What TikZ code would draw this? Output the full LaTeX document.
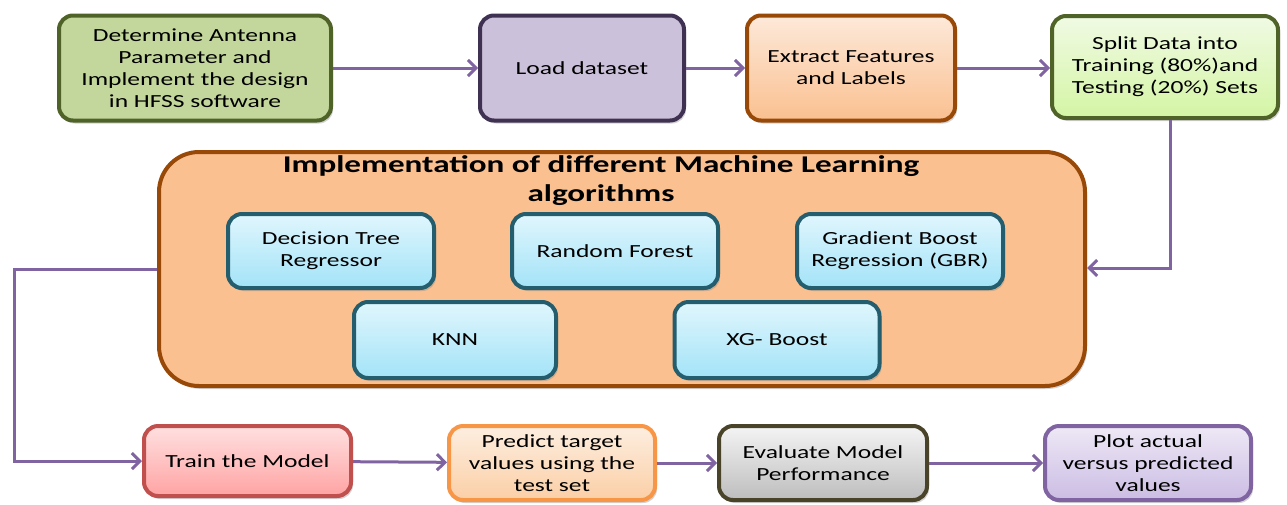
\documentclass[tikz,border=0pt]{standalone}
\usepackage{fontspec}
\setmainfont{Carlito}[FakeStretch=1.38]
\usetikzlibrary{arrows.meta,shadows}
\definecolor{conn}{HTML}{8064A2}
\definecolor{algob}{HTML}{245E6E}
\definecolor{algot}{HTML}{E0F6FD}
\definecolor{algobot}{HTML}{A3E3F8}
\definecolor{antb}{HTML}{4F6228}
\definecolor{antf}{HTML}{C3D69B}
\definecolor{loadb}{HTML}{3F3151}
\definecolor{loadf}{HTML}{CCC1DA}
\definecolor{extb}{HTML}{984807}
\definecolor{extt}{HTML}{FDE9D9}
\definecolor{extbot}{HTML}{FAC090}
\definecolor{splt}{HTML}{F0FAE4}
\definecolor{splbot}{HTML}{D4F5A4}
\definecolor{trb}{HTML}{C0504D}
\definecolor{trt}{HTML}{FFE0E0}
\definecolor{trbot}{HTML}{FFA3A3}
\definecolor{prb}{HTML}{F79646}
\definecolor{prt}{HTML}{FDEEE0}
\definecolor{prbot}{HTML}{FBCFA6}
\definecolor{evb}{HTML}{494429}
\definecolor{evt}{HTML}{F4F4F4}
\definecolor{evbot}{HTML}{BDBDBD}
\definecolor{plt}{HTML}{EEE8F6}
\definecolor{plbot}{HTML}{CBBDE3}
\tikzset{
  box/.style={draw, rounded corners=14pt, line width=4pt, inner sep=0pt, align=center,
     font=\fontsize{18.5}{22}\selectfont, drop shadow={shadow xshift=2pt,shadow yshift=-3pt,opacity=0.35}},
  algo/.style={box, draw=algob, top color=algot, bottom color=algobot, minimum width=206pt, minimum height=74pt},
  conarrow/.style={draw=conn, line width=3pt, -{Straight Barb[length=8pt,width=16pt,line width=3pt]}}
}
\begin{document}
\begin{tikzpicture}[x=1pt,y=-1pt]
\useasboundingbox (0,0) rectangle (1287,504);
% top row
\node[box, draw=antb, fill=antf, minimum width=272pt, minimum height=105pt] (ant) at (195,68)
  {Determine Antenna\\Parameter and\\Implement the design\\in HFSS software};
\node[box, draw=loadb, fill=loadf, minimum width=204pt, minimum height=105pt] (load) at (582,68)
  {Load dataset};
\node[box, draw=extb, top color=extt, bottom color=extbot, minimum width=208pt, minimum height=105pt] (extract) at (851,68)
  {Extract Features\\and Labels};
\node[box, draw=antb, top color=splt, bottom color=splbot, minimum width=226pt, minimum height=102pt] (split) at (1165,67)
  {Split Data into\\Training (80\%)and\\Testing (20\%) Sets};
% big box
\node[box, rounded corners=40pt, draw=extb, fill=extbot, minimum width=926pt, minimum height=234pt] (big) at (622,269) {};
\node[align=center, inner sep=0pt, font=\fontsize{24}{29}\selectfont\bfseries] (title) at (601,181)
  {Implementation of different Machine Learning\\algorithms};
\node[algo] (dt) at (331,251) {Decision Tree\\Regressor};
\node[algo] (rf) at (615,251) {Random Forest};
\node[algo] (gbr) at (900,251) {Gradient Boost\\Regression (GBR)};
\node[algo, minimum width=202pt, minimum height=76pt] (knn) at (455,340) {KNN};
\node[algo, minimum width=205pt, minimum height=76pt] (xgb) at (777,340) {XG- Boost};
% bottom row
\node[box, draw=trb, top color=trt, bottom color=trbot, minimum width=207pt, minimum height=70pt] (train) at (247.5,461)
  {Train the Model};
\node[box, draw=prb, top color=prt, bottom color=prbot, minimum width=206pt, minimum height=74pt] (pred) at (552,463)
  {Predict target\\values using the\\test set};
\node[box, draw=evb, top color=evt, bottom color=evbot, minimum width=208pt, minimum height=74pt] (eval) at (823,463)
  {Evaluate Model\\Performance};
\node[box, draw=conn, top color=plt, bottom color=plbot, minimum width=206pt, minimum height=74pt] (plot) at (1148,463)
  {Plot actual\\versus predicted\\values};
% connectors
\coordinate (lc) at (14,269);
\coordinate (rc) at (1170,268);
\draw[conarrow] (ant) -- (load);
\draw[conarrow] (load) -- (extract);
\draw[conarrow] (extract.east) -- (extract.east -| split.west);
\draw[conarrow] (split.south -| rc) -- (rc) -- (rc -| big.east);
\draw[conarrow] (big.west) -- (lc) |- (train.west);
\draw[conarrow] (train) -- (pred);
\draw[conarrow] (pred) -- (eval);
\draw[conarrow] (eval) -- (plot);
\end{tikzpicture}
\end{document}
